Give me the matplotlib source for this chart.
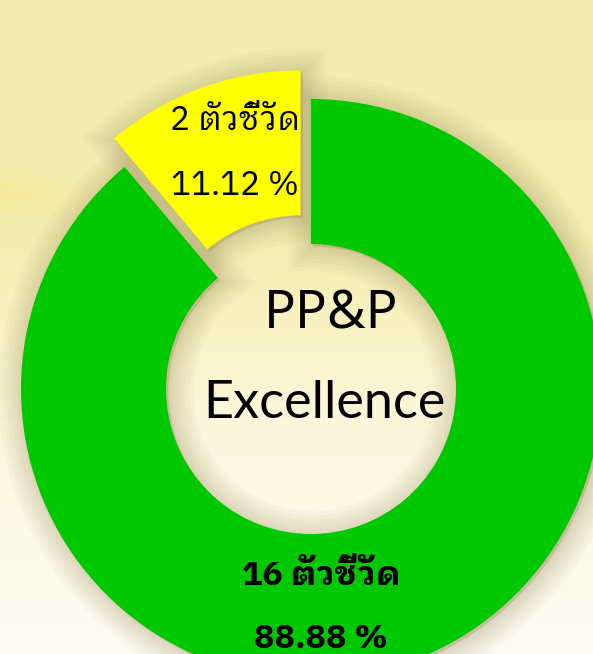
import matplotlib
matplotlib.use("Agg")
import matplotlib.pyplot as plt
import numpy as np

# donut data
labels = ["ตัวชี้วัด", "ตัวชี้วัด"]
counts = [2, 16]
shares = [11.12, 88.88]
colors = ["#FFFF00", "#00C800"]
explode = [0.105, 0.0]
center_title = ["PP&P", "Excellence"]

THAI = ["IBM Plex Sans Thai Looped", "Noto Sans Thai Looped", "Noto Sans", "DejaVu Sans"]
LATIN = ["Noto Sans", "DejaVu Sans"]
LIGHT = ["Lato", "Noto Sans", "DejaVu Sans"]

W, H = 593, 654
R_PX = 290.0
CX, CY = 311.0, 389.0

fig = plt.figure(figsize=(W / 100, H / 100), dpi=100)
ax = fig.add_axes([0, 0, 1, 1])
x0, x1 = -CX / R_PX, (W - CX) / R_PX
y0, y1 = -(H - CY) / R_PX, CY / R_PX

# soft pale-yellow backdrop (decorative)
yy = np.arange(H)
stops_y = [0, 250, 330, 420, 560, 654]
stops_c = np.array([[243, 238, 176], [244, 238, 178], [248, 242, 196],
                    [251, 247, 220], [252, 250, 234], [254, 253, 244]]) / 255
bg = np.stack([np.interp(yy, stops_y, stops_c[:, k]) for k in range(3)], axis=-1)
bg = np.repeat(bg[:, None, :], W, axis=1)
xx = np.arange(W)[None, :]
streak = np.exp(-((yy[:, None] - 195) / 18.0) ** 2) * np.clip(1 - xx / 120.0, 0, 1)
bg = bg * (1 - 0.35 * streak[..., None]) + np.array([246, 226, 110]) / 255 * 0.35 * streak[..., None]
ax.imshow(bg, extent=[x0, x1, y0, y1], origin="upper", aspect="auto", zorder=0)

# blurred shadow around the donut
for lw in [36, 30, 24, 18, 13, 8, 4]:
    ax.pie(shares, explode=explode, startangle=90, counterclock=True, radius=1.0,
           colors=["#9c8c5c"] * 2,
           wedgeprops=dict(width=0.5, edgecolor="#9c8c5c", linewidth=lw, alpha=0.05),
           center=(0.008, -0.008))

wedges, _ = ax.pie(shares, explode=explode, startangle=90, counterclock=True,
                   radius=1.0, colors=colors,
                   wedgeprops=dict(width=0.5, edgecolor="none", linewidth=0))

ax.text(-0.263, 0.925, f"{counts[0]} {labels[0]}", ha="center", va="center",
        fontsize=24, family=THAI, color="black")
ax.text(-0.263, 0.70, f"{shares[0]:.2f} %", ha="center", va="center",
        fontsize=24, family=THAI, color="black")

ax.text(0.035, -0.645, f"{counts[1]} {labels[1]}", ha="center", va="center",
        fontsize=24.5, family=THAI, fontweight="bold", color="black")
ax.text(0.035, -0.862, f"{shares[1]:.2f} %", ha="center", va="center",
        fontsize=24.5, family=THAI, fontweight="bold", color="black")

ax.text(0.069, 0.255, center_title[0], ha="center", va="center",
        fontsize=38, family=LATIN, color="black")
ax.text(0.045, -0.05, center_title[1], ha="center", va="center",
        fontsize=37.5, family=LIGHT, color="black")

ax.set_xlim(x0, x1)
ax.set_ylim(y0, y1)
ax.set_aspect("auto")
ax.axis("off")
fig.savefig("out.png", dpi=100)
